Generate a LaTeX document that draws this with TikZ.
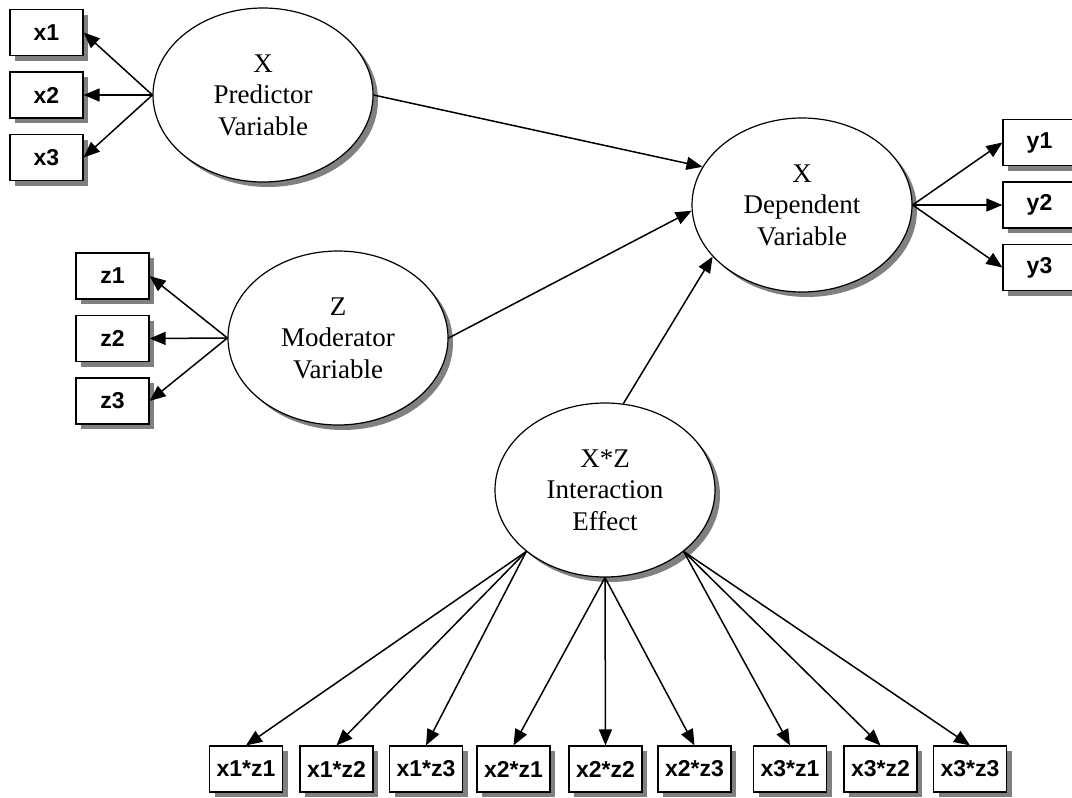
\documentclass[tikz,border=0pt]{standalone}
\usepackage{fontspec}
\setmainfont{Liberation Serif}
\newfontfamily\boxfont{Liberation Sans}
\usetikzlibrary{shapes.geometric,arrows.meta,shadows}

\tikzset{
  latent/.style={ellipse, draw, line width=1.2pt, fill=white,
    minimum width=220pt, minimum height=174pt, inner sep=0pt,
    align=center, font=\fontsize{27}{31.5}\selectfont,
    drop shadow={shadow xshift=5pt, shadow yshift=-5pt, fill=black!50, opacity=1}},
  indicator/.style={rectangle, draw, line width=1.2pt, fill=white,
    minimum width=73pt, minimum height=46pt, inner sep=0pt,
    font=\boxfont\bfseries\fontsize{23}{27}\selectfont,
    drop shadow={shadow xshift=5pt, shadow yshift=-5pt, fill=black!50, opacity=1}},
  path/.style={line width=1.5pt, -{Triangle[length=16pt,width=13pt]}}
}

\begin{document}
\begin{tikzpicture}[x=1pt, y=-1pt]
\useasboundingbox (0,0) rectangle (1072,798);

% latent variables
\node[latent] (P) at (263,95)  {X\\Predictor\\Variable};
\node[latent] (Z) at (338,338) {Z\\Moderator\\Variable};
\node[latent] (D) at (802,205) {X\\Dependent\\Variable};
\node[latent] (I) at (605,490) {X*Z\\Interaction\\Effect};

% indicators of X
\node[indicator] (x1) at (46.5,32.5) {x1};
\node[indicator] (x2) at (46.5,95)   {x2};
\node[indicator] (x3) at (46.5,157.5){x3};

% indicators of Z
\node[indicator] (z1) at (112.5,276)   {z1};
\node[indicator] (z2) at (112.5,338.5) {z2};
\node[indicator] (z3) at (112.5,401)   {z3};

% indicators of the dependent variable
\node[indicator] (y1) at (1039.5,142.5) {y1};
\node[indicator] (y2) at (1039.5,205)   {y2};
\node[indicator] (y3) at (1039.5,267.5) {y3};

% product indicators
\node[indicator] (p11) at (246,769)   {x1*z1};
\node[indicator] (p12) at (336.5,769) {x1*z2};
\node[indicator] (p13) at (426,769)   {x1*z3};
\node[indicator] (p21) at (513.5,769) {x2*z1};
\node[indicator] (p22) at (605.5,769) {x2*z2};
\node[indicator] (p23) at (694.5,769) {x2*z3};
\node[indicator] (p31) at (790,769)   {x3*z1};
\node[indicator] (p32) at (880.5,769) {x3*z2};
\node[indicator] (p33) at (970,769)   {x3*z3};

% measurement paths
\foreach \t in {x1,x2,x3} \draw[path] (P.west) -- (\t.east);
\foreach \t in {z1,z2,z3} \draw[path] (Z.west) -- (\t.east);
\foreach \t in {y1,y2,y3} \draw[path] (D.east) -- (\t.west);
\foreach \t in {p11,p12,p13} \draw[path] (I.218) -- (\t.north);
\foreach \t in {p21,p22,p23} \draw[path] (I.south) -- (\t.north);
\foreach \t in {p31,p32,p33} \draw[path] (I.322) -- (\t.north);

% structural paths
\draw[path] (P.east) -- (D.159);
\draw[path] (Z.east) -- (D.183);
\draw[path] (I.78) -- (D.210);
\end{tikzpicture}
\end{document}
